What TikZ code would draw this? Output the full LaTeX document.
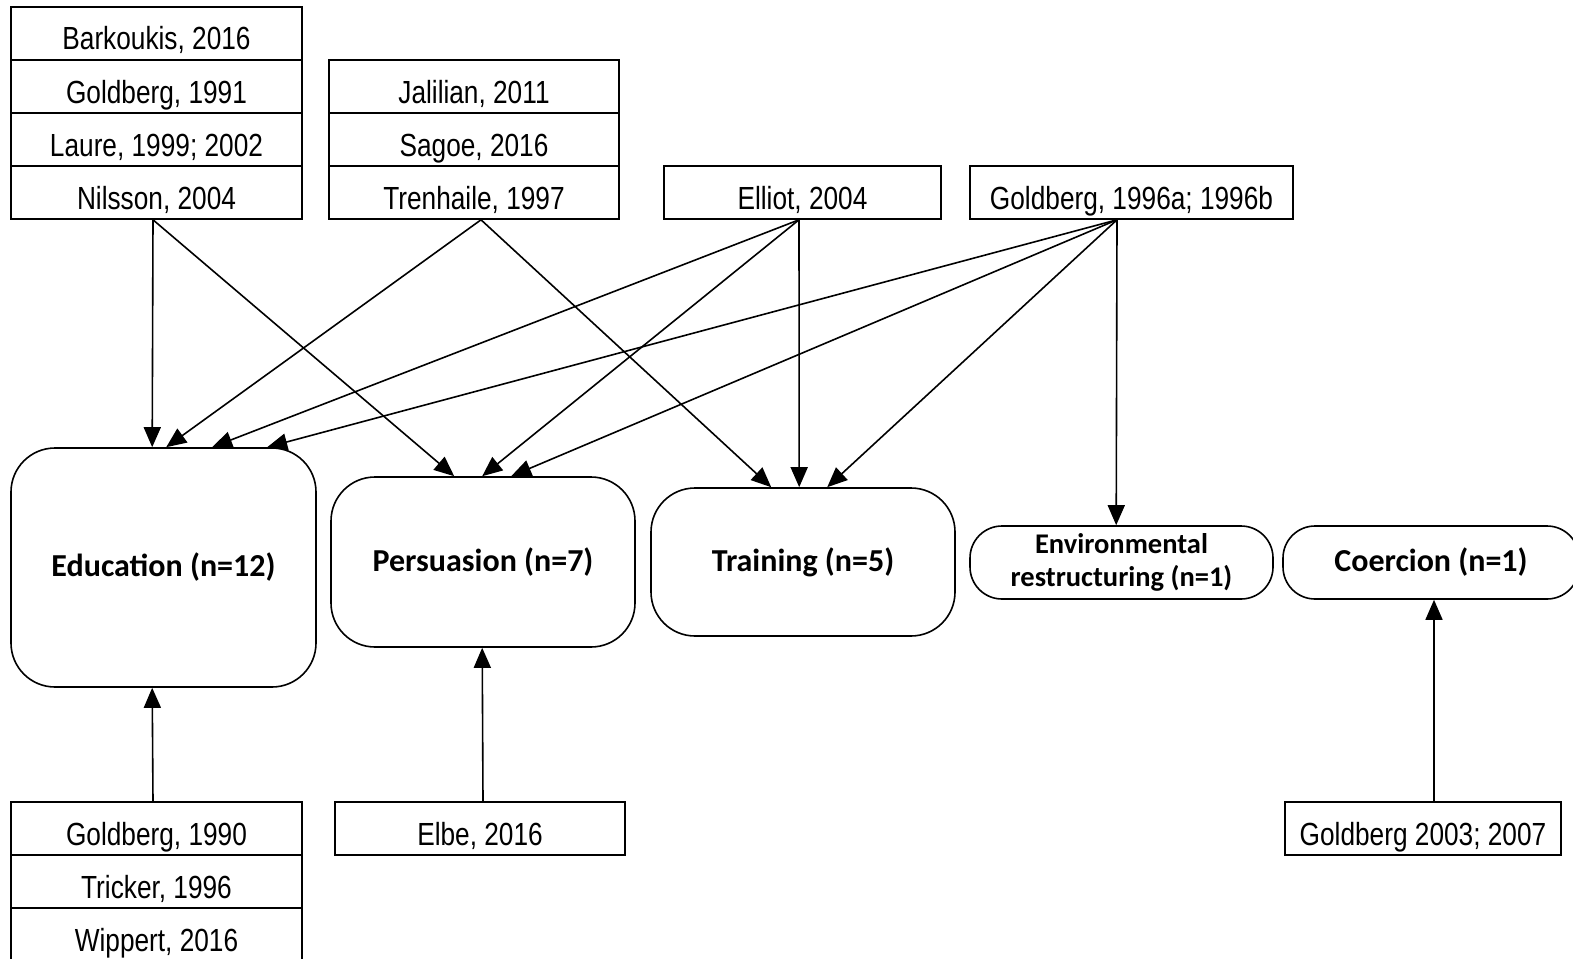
\documentclass[tikz,border=0pt]{standalone}
\usepackage{fontspec}
\setmainfont[FakeStretch=0.82]{Liberation Sans}
\newfontfamily\calib{Carlito}
\usetikzlibrary{arrows.meta}
\begin{document}
\begin{tikzpicture}[x=1pt,y=-1pt,
  ref/.style={draw, line width=1.6pt, minimum width=291pt, minimum height=53pt, inner sep=0pt,
    text height=33pt, text depth=0pt, font=\fontsize{32}{36}\selectfont},
  cat/.style={draw, line width=1.6pt, rounded corners=44pt, inner sep=0pt,
    font=\calib\bfseries\fontsize{32}{36}\selectfont, align=center},
  arr/.style={line width=1.6pt, -{Triangle[length=20pt,width=17pt]}}]
\useasboundingbox (0,0) rectangle (1573,958);
% top references
\node[ref] (bar) at (156.5,33.5) {Barkoukis, 2016};
\node[ref] (g91) at (156.5,86.5) {Goldberg, 1991};
\node[ref] (lau) at (156.5,139.5) {Laure, 1999; 2002};
\node[ref] (nil) at (156.5,192.5) {Nilsson, 2004};
\node[ref, minimum width=290pt] (jal) at (474,86.5) {Jalilian, 2011};
\node[ref, minimum width=290pt] (sag) at (474,139.5) {Sagoe, 2016};
\node[ref, minimum width=290pt] (tre) at (474,192.5) {Trenhaile, 1997};
\node[ref, minimum width=277pt] (ell) at (802.5,192.5) {Elliot, 2004};
\node[ref, minimum width=323pt] (g96) at (1131.5,192.5) {Goldberg, 1996a; 1996b};
% categories
\node[cat, minimum width=305pt, minimum height=239pt] (edu) at (163.5,567.5) {Education (n=12)};
\node[cat, minimum width=304pt, minimum height=170pt] (per) at (483,562) {Persuasion (n=7)};
\node[cat, minimum width=304pt, minimum height=148pt] (tra) at (803,562) {Training (n=5)};
\node[cat, minimum width=303pt, minimum height=73pt, rounded corners=32pt,
  font=\calib\bfseries\fontsize{28.5}{33}\selectfont] (env) at (1121.5,562.5) {Environmental\\restructuring (n=1)};
\node[cat, minimum width=296pt, minimum height=73pt, rounded corners=32pt] (coe) at (1431,562.5) {Coercion (n=1)};
% bottom references
\node[ref] (g90) at (156.5,828.5) {Goldberg, 1990};
\node[ref] (tri) at (156.5,881.5) {Tricker, 1996};
\node[ref] (wip) at (156.5,934.5) {Wippert, 2016};
\node[ref, minimum width=290pt] (elb) at (480,828.5) {Elbe, 2016};
\node[ref, minimum width=276pt] (g03) at (1423,828.5) {Goldberg 2003; 2007};
% connectors
\draw[arr] ([xshift=-3.5pt]nil.south) -- ([xshift=142pt]edu.north west);
\draw[arr] ([xshift=-3.5pt]nil.south) -- ([xshift=124pt]per.north west);
\draw[arr] ([xshift=7pt]tre.south) -- ([xshift=156pt]edu.north west);
\draw[arr] ([xshift=7pt]tre.south) -- ([xshift=121pt]tra.north west);
\draw[arr] ([xshift=-3.5pt]ell.south) -- ([xshift=202pt]edu.north west);
\draw[arr] ([xshift=-3.5pt]ell.south) -- ([xshift=152pt]per.north west);
\draw[arr] ([xshift=-3.5pt]ell.south) -- ([xshift=149pt]tra.north west);
\draw[arr] ([xshift=-14.5pt]g96.south) -- ([xshift=257pt]edu.north west);
\draw[arr] ([xshift=-14.5pt]g96.south) -- ([xshift=181pt]per.north west);
\draw[arr] ([xshift=-14.5pt]g96.south) -- ([xshift=177pt]tra.north west);
\draw[arr] ([xshift=-14.5pt]g96.south) -- ([xshift=147pt]env.north west);
\draw[arr] ([xshift=-3.5pt]g90.north) -- ([xshift=142pt]edu.south west);
\draw[arr] ([xshift=3pt]elb.north) -- ([xshift=152pt]per.south west);
\draw[arr] ([xshift=11pt]g03.north) -- ([xshift=3pt]coe.south);
\end{tikzpicture}
\end{document}
